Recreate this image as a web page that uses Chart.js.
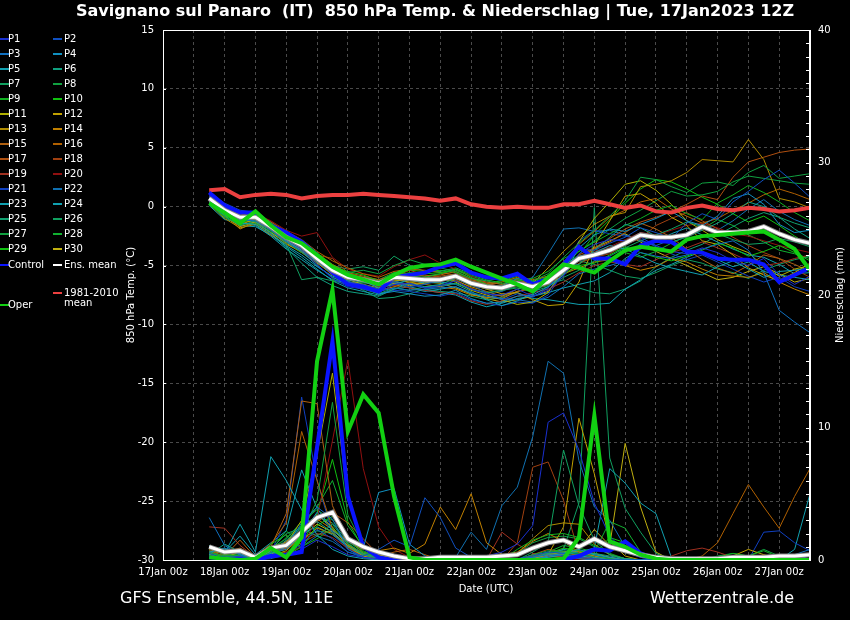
<!DOCTYPE html>
<html>
<head>
<meta charset="utf-8">
<script src="https://cdn.jsdelivr.net/npm/chart.js@4.4.1/dist/chart.umd.min.js"></script>
<style>
html, body { margin: 0; padding: 0; background: #000; }
#wrap { width: 850px; height: 620px; }
</style>
</head>
<body>
<div id="wrap"><canvas id="chart" width="850" height="620"></canvas></div>
<script>
// lead times (hours after 17Jan 00z), 6-hourly
const leadHours = [18,24,30,36,42,48,54,60,66,72,78,84,90,96,102,108,114,120,126,132,
                   138,144,150,156,162,168,174,180,186,192,198,204,210,216,222,228,234,240,246,252];
const dayLabels = ['17Jan 00z','18Jan 00z','19Jan 00z','20Jan 00z','21Jan 00z','22Jan 00z',
                   '23Jan 00z','24Jan 00z','25Jan 00z','26Jan 00z','27Jan 00z'];

// 850 hPa temperature (°C)
const operTemp = [0.3,-0.5,-1.4,-0.4,-1.6,-2.6,-3.1,-4.1,-5.1,-5.8,-6.2,-6.6,-5.8,-5.2,-5.0,-4.9,-4.5,-5.1,-5.6,-6.1,
                  -6.6,-7.2,-6.0,-4.9,-5.2,-5.6,-4.6,-3.7,-3.4,-3.6,-3.8,-2.8,-2.5,-2.4,-2.3,-2.2,-2.1,-2.8,-3.6,-5.4];
const controlTemp = [1.2,0.1,-0.5,-0.5,-1.6,-2.2,-3.0,-4.1,-5.6,-6.6,-6.8,-7.2,-6.0,-5.8,-5.6,-5.1,-4.8,-5.6,-6.0,-6.1,
                     -5.7,-6.6,-6.1,-4.9,-3.4,-4.4,-4.4,-4.9,-3.3,-2.9,-3.0,-3.8,-3.9,-4.4,-4.5,-4.5,-4.9,-6.4,-5.8,-5.2];
const meanTemp = [0.7,-0.3,-0.9,-0.9,-1.7,-2.6,-3.3,-4.4,-5.4,-6.0,-6.2,-6.5,-6.0,-6.1,-6.2,-6.2,-5.9,-6.5,-6.8,-6.9,
                  -6.5,-6.8,-6.4,-5.4,-4.4,-4.1,-3.7,-3.1,-2.4,-2.6,-2.6,-2.4,-1.7,-2.2,-2.2,-2.1,-1.7,-2.3,-2.8,-3.1];
const climTemp = [1.4,1.5,0.8,1.0,1.1,1.0,0.7,0.9,1.0,1.0,1.1,1.0,0.9,0.8,0.7,0.5,0.7,0.2,0.0,-0.1,
                  0.0,-0.1,-0.1,0.2,0.2,0.5,0.2,-0.1,0.1,-0.4,-0.5,-0.1,0.1,-0.2,-0.3,-0.1,-0.2,-0.4,-0.3,-0.1];

// precipitation (mm / 6h)
const operPrecip = [0.2,0.1,0.0,0.1,0.9,0.2,1.7,15.0,20.4,9.7,12.5,11.1,4.8,0.2,0,0,0,0,0,0,
                    0,0,0,0.1,1.7,10.9,1.4,1.0,0.4,0.1,0,0,0,0,0,0,0,0,0,0];
const controlPrecip = [0.2,0.1,0.1,0.0,0.3,0.4,0.6,8.5,16.5,4.8,1.0,0.2,0,0,0,0,0,0,0,0,
                       0,0,0,0,0.3,0.8,0.7,1.4,0.5,0.1,0,0,0,0,0,0.1,0.1,0,0,0];
const meanPrecip = [1.0,0.6,0.7,0.2,0.9,1.1,2.1,3.2,3.6,1.6,1.0,0.6,0.3,0.1,0.1,0.2,0.2,0.2,0.2,0.3,
                    0.4,0.9,1.3,1.5,1.0,1.6,1.0,0.7,0.4,0.2,0.1,0.1,0.1,0.1,0.2,0.2,0.2,0.3,0.3,0.4];

// ensemble members P1..P30
const memberNames = ['P1','P2','P3','P4','P5','P6','P7','P8','P9','P10','P11','P12','P13','P14','P15',
                     'P16','P17','P18','P19','P20','P21','P22','P23','P24','P25','P26','P27','P28','P29','P30'];
const memberColors = ['#1a30d0','#1050c0','#1070c0','#1090c0','#10a0b0','#10a080','#10a060','#10a040','#10b020','#10c010',
                      '#b0b000','#c0a000','#b08c00','#c08000','#b06010','#b06000','#b05010','#a04010','#a03020','#901010',
                      '#1040c0','#1070b0','#10a0b0','#10a0b0','#10a070','#10a060','#10a040','#10b030','#10c010','#c0b010'];
const memberTemp = [
  [0.9,-0.1,-0.7,-1.0,-1.9,-2.8,-3.6,-4.9,-6.1,-6.8,-7.0,-7.3,-6.6,-6.5,-6.9,-6.7,-6.3,-7.0,-7.4,-7.5,-7.0,-7.6,-7.1,-5.9,-4.0,-3.2,-2.8,-2.9,-2.6,-3.3,-3.8,-4.0,-3.5,-3.9,-4.6,-5.0,-4.4,-5.8,-6.6,-5.9],
  [1.0,0.1,-0.5,-0.8,-1.6,-2.5,-3.2,-4.4,-5.6,-6.4,-6.6,-7.0,-6.4,-6.8,-6.6,-6.2,-5.8,-6.6,-7.3,-7.9,-7.4,-7.7,-6.9,-5.2,-3.6,-3.7,-3.1,-2.6,-1.8,-2.2,-2.7,-1.4,-0.6,-1.1,0.4,1.3,2.3,3.1,2.0,0.8],
  [0.8,-0.4,-1.1,-1.2,-2.0,-3.0,-3.8,-5.0,-6.0,-6.5,-6.8,-7.2,-6.9,-7.1,-7.0,-6.9,-6.8,-7.3,-7.6,-7.8,-7.9,-8.1,-7.7,-6.8,-5.7,-5.3,-5.0,-4.6,-3.9,-4.2,-4.4,-4.1,-3.6,-3.2,-2.9,-3.7,-5.6,-8.8,-9.8,-10.7],
  [0.5,-0.6,-1.2,-1.0,-1.8,-2.9,-3.7,-4.7,-5.7,-6.4,-6.9,-7.4,-7.2,-7.4,-7.6,-7.5,-7.1,-7.8,-8.2,-8.1,-7.6,-7.5,-6.8,-5.8,-3.5,-2.4,-1.9,-2.1,-1.5,-1.0,-0.4,-1.2,-1.6,-0.8,0.7,1.1,0.2,-1.5,-2.2,-2.0],
  [0.4,-0.7,-1.4,-1.5,-2.3,-3.3,-4.1,-5.1,-5.9,-6.3,-6.3,-6.9,-6.6,-6.2,-6.5,-6.4,-6.6,-7.2,-7.9,-8.4,-8.0,-7.4,-6.3,-5.0,-4.2,-3.9,-3.3,-3.6,-4.2,-4.8,-5.2,-5.5,-5.8,-5.1,-4.6,-5.3,-6.0,-5.5,-5.4,-5.2],
  [0.6,-0.3,-1.0,-1.3,-2.2,-3.5,-4.8,-6.0,-6.7,-7.2,-7.4,-7.6,-7.0,-6.5,-6.8,-6.6,-6.1,-6.7,-6.9,-6.7,-6.1,-6.4,-6.2,-5.1,-4.9,-3.7,-2.6,-1.5,-1.8,-2.5,-3.0,-2.6,-2.0,-1.4,-0.6,0.4,0.0,-0.9,-1.9,-2.7],
  [0.3,-0.8,-1.6,-1.2,-2.0,-3.2,-6.2,-6.0,-6.3,-6.6,-7.0,-7.4,-6.9,-7.1,-6.8,-6.7,-6.5,-7.0,-7.3,-7.1,-6.9,-7.2,-6.8,-6.0,-5.4,-4.6,-4.2,-3.5,-2.9,-2.4,-1.9,-1.3,-1.7,-2.3,-2.8,-3.2,-3.1,-2.7,-3.0,-3.4],
  [0.7,-0.2,-0.8,-0.7,-1.4,-2.3,-3.0,-4.3,-5.3,-5.6,-5.4,-5.7,-5.0,-4.5,-4.9,-5.2,-5.5,-6.1,-6.3,-6.0,-5.8,-6.3,-5.7,-4.3,-3.1,-2.0,-0.8,0.5,2.5,2.3,1.7,1.2,2.0,2.1,1.8,2.9,3.5,2.4,2.6,2.8],
  [0.2,-0.9,-1.5,-1.4,-2.1,-3.0,-3.9,-4.6,-5.5,-6.1,-6.5,-6.4,-5.6,-5.9,-6.0,-5.7,-5.3,-5.8,-6.2,-6.5,-6.3,-6.1,-5.5,-4.4,-3.8,-3.0,-2.3,-1.6,-1.0,-0.3,0.1,-0.6,-1.1,0.3,1.0,1.8,1.2,0.4,-0.5,-1.2],
  [0.5,-0.5,-1.2,-0.9,-1.8,-2.7,-3.4,-4.2,-5.1,-5.5,-5.8,-6.3,-5.9,-5.6,-5.7,-5.6,-5.3,-6.0,-6.6,-6.9,-6.5,-6.9,-6.4,-5.7,-5.0,-4.8,-4.1,-3.4,-3.9,-4.3,-4.6,-4.2,-3.7,-3.1,-3.5,-4.2,-3.8,-3.3,-3.9,-4.6],
  [0.6,-0.6,-1.5,-1.1,-1.9,-2.8,-3.5,-4.5,-5.3,-5.9,-6.2,-6.6,-6.2,-6.4,-6.3,-6.1,-6.4,-7.1,-7.5,-7.9,-8.3,-8.1,-7.3,-5.2,-3.0,-1.0,0.4,1.9,2.2,1.4,0.2,-1.2,-2.0,-2.8,-3.4,-3.9,-5.1,-5.9,-5.3,-5.0],
  [0.4,-0.8,-1.7,-1.3,-2.2,-3.1,-3.9,-4.8,-5.7,-6.2,-6.6,-6.9,-6.5,-6.7,-6.5,-6.3,-6.0,-6.6,-7.0,-7.4,-7.3,-7.9,-8.4,-8.3,-6.4,-3.3,-1.2,0.9,1.1,0.3,-0.9,-1.6,-2.9,-3.2,-4.1,-5.2,-5.8,-6.3,-5.6,-4.8],
  [0.2,-1.0,-1.8,-1.5,-2.4,-3.2,-3.8,-4.6,-5.4,-5.8,-6.1,-6.5,-6.3,-6.2,-6.0,-6.1,-6.3,-6.8,-7.2,-7.6,-7.0,-6.5,-5.2,-3.8,-2.6,-1.5,-0.8,-0.5,1.7,1.9,2.2,2.9,4.0,3.9,3.8,5.7,4.0,0.7,0.4,-0.1],
  [0.5,-0.7,-1.9,-1.3,-2.0,-2.9,-3.7,-4.7,-5.8,-6.4,-6.6,-7.1,-6.8,-6.4,-6.6,-6.8,-7.0,-7.5,-7.7,-7.8,-7.2,-6.8,-6.3,-5.7,-5.2,-4.7,-4.5,-5.0,-5.4,-5.1,-4.4,-4.7,-5.3,-5.8,-5.9,-6.0,-5.6,-6.4,-7.0,-7.5],
  [0.8,-0.2,-0.6,-0.8,-1.5,-2.4,-3.1,-4.0,-4.9,-5.6,-5.9,-6.2,-5.8,-5.7,-5.9,-5.8,-5.5,-6.1,-6.4,-6.6,-6.2,-6.6,-6.0,-5.1,-4.5,-3.6,-3.0,-2.2,-1.4,-1.9,-2.6,-3.6,-4.5,-5.2,-5.7,-5.0,-4.1,-4.4,-4.9,-5.5],
  [1.1,0.2,-0.5,-0.6,-1.3,-2.1,-2.8,-3.8,-4.6,-5.2,-5.7,-6.0,-5.5,-5.3,-5.4,-5.6,-5.8,-6.3,-6.6,-6.4,-6.0,-6.2,-5.9,-4.7,-3.2,-2.1,-0.9,-0.3,0.4,0.7,-0.2,-0.8,-1.4,-1.0,-0.3,0.3,1.0,1.5,1.1,0.6],
  [0.9,0.0,-0.6,-1.0,-1.7,-2.6,-3.4,-4.3,-5.2,-5.8,-6.0,-6.3,-6.1,-6.0,-6.1,-5.9,-5.7,-6.2,-6.5,-6.8,-6.4,-6.5,-6.1,-5.5,-4.1,-3.5,-2.7,-1.9,-1.3,-0.9,-0.4,0.2,0.9,0.6,2.5,3.8,4.2,4.6,4.8,4.9],
  [0.7,-0.4,-0.9,-0.8,-1.6,-2.5,-3.2,-4.1,-4.4,-5.6,-6.1,-6.4,-6.0,-5.4,-5.8,-6.0,-6.2,-6.9,-7.4,-7.6,-7.2,-7.0,-6.6,-5.8,-4.8,-4.3,-4.0,-3.2,-2.7,-1.6,-1.0,-0.5,-1.2,-1.9,-2.6,-3.3,-3.9,-4.4,-5.3,-6.0],
  [0.6,-0.5,-1.1,-1.1,-1.9,-2.7,-3.3,-4.0,-5.0,-5.7,-6.3,-6.8,-6.7,-6.9,-7.1,-7.3,-7.4,-8.0,-8.3,-8.0,-7.6,-7.3,-7.0,-6.4,-5.6,-5.0,-4.7,-4.9,-5.1,-4.5,-3.9,-3.5,-3.0,-3.5,-4.0,-4.6,-5.0,-4.8,-4.4,-4.1],
  [1.0,0.1,-0.4,-0.6,-1.2,-2.0,-2.5,-2.2,-4.3,-5.3,-5.7,-5.9,-5.1,-4.5,-4.1,-4.8,-5.3,-5.9,-6.5,-6.9,-6.7,-7.0,-6.5,-5.6,-4.2,-3.8,-3.4,-2.8,-2.2,-2.4,-2.0,-1.6,-1.4,-1.8,-2.3,-2.5,-2.9,-3.3,-3.6,-3.9],
  [1.2,0.3,-0.3,-0.5,-1.3,-2.3,-3.1,-4.2,-5.5,-6.3,-6.9,-7.4,-7.1,-7.2,-7.4,-7.6,-7.3,-7.9,-8.2,-8.4,-8.1,-8.2,-7.5,-5.6,-2.9,-2.0,-2.3,-2.5,-2.8,-3.4,-4.0,-4.5,-4.1,-4.7,-5.3,-5.9,-6.4,-6.0,-6.8,-7.2],
  [0.9,-0.2,-0.8,-0.9,-1.6,-2.4,-3.0,-4.1,-5.2,-5.9,-6.4,-6.8,-6.3,-6.6,-6.9,-6.8,-6.5,-7.0,-7.3,-7.2,-6.6,-6.0,-4.0,-1.9,-1.8,-2.1,-2.0,-2.4,-2.9,-3.3,-2.8,-2.2,-1.6,-2.0,-1.2,-0.2,0.6,-0.4,-1.1,-1.6],
  [0.3,-0.9,-1.6,-1.7,-2.4,-3.4,-4.3,-5.3,-6.3,-6.9,-7.2,-7.5,-7.0,-6.8,-7.1,-7.3,-7.5,-8.1,-8.5,-8.2,-7.8,-7.6,-7.3,-6.9,-6.6,-6.3,-5.6,-4.4,-3.6,-3.0,-2.3,-1.8,-2.4,-3.0,-3.6,-4.1,-4.3,-4.9,-5.7,-5.6],
  [0.1,-1.1,-1.3,-1.6,-2.5,-3.6,-4.5,-5.4,-6.2,-6.5,-6.4,-6.7,-6.5,-6.9,-7.2,-7.0,-6.8,-7.4,-7.7,-7.5,-7.3,-7.8,-7.9,-8.1,-8.3,-8.3,-8.2,-7.0,-6.2,-5.4,-4.9,-4.3,-3.8,-4.5,-5.1,-4.7,-5.5,-5.8,-6.0,-6.2],
  [0.5,-0.4,-1.0,-1.1,-1.9,-2.9,-3.5,-4.4,-5.6,-6.5,-7.1,-7.8,-7.7,-7.4,-7.0,-7.2,-7.3,-7.6,-7.9,-7.7,-7.2,-6.9,-6.6,-6.2,-6.9,-7.3,-7.4,-7.0,-6.3,-5.1,-4.3,-3.7,-3.2,-2.4,-1.7,-1.0,-0.5,-0.9,-1.4,-1.8],
  [0.4,-0.6,-1.3,-1.0,-1.7,-2.6,-3.3,-4.1,-5.0,-5.3,-5.1,-5.4,-4.2,-5.0,-5.5,-5.5,-5.2,-5.7,-6.0,-6.3,-6.1,-6.4,-6.0,-5.3,-4.6,-4.9,-5.4,-5.9,-6.1,-5.6,-5.0,-4.5,-4.8,-5.3,-5.6,-6.1,-5.4,-4.9,-4.5,-4.2],
  [0.6,-0.3,-0.9,-0.6,-1.5,-2.4,-3.2,-4.0,-5.2,-5.7,-6.0,-6.2,-5.6,-5.8,-5.9,-5.7,-5.4,-5.9,-6.3,-6.6,-6.2,-6.6,-6.1,-5.0,-3.8,-2.9,-1.9,-1.0,-0.3,0.5,1.3,0.9,1.0,1.3,2.1,2.6,2.4,2.2,2.0,1.9],
  [0.3,-0.7,-1.2,-1.2,-2.0,-3.0,-3.8,-5.0,-6.0,-6.6,-6.8,-7.0,-6.4,-6.0,-6.2,-6.3,-6.1,-6.6,-7.0,-7.1,-6.8,-7.0,-6.7,-5.8,-4.9,-4.0,-3.5,-3.9,-4.3,-3.8,-3.1,-2.5,-1.9,-1.1,-1.6,-2.4,-3.0,-3.7,-4.0,-4.4],
  [0.7,-0.4,-1.0,-0.8,-1.5,-2.3,-3.1,-4.3,-5.5,-5.9,-6.1,-6.4,-5.8,-5.4,-5.5,-5.4,-5.6,-6.2,-6.5,-6.3,-5.9,-6.3,-5.9,-5.0,-4.1,-2.4,-1.1,0.3,1.5,2.3,2.1,1.5,0.8,0.2,-0.6,-1.3,-0.8,-1.6,-2.5,-3.3],
  [0.5,-0.5,-1.1,-1.4,-2.2,-3.0,-3.6,-4.5,-5.4,-6.0,-6.3,-6.7,-6.4,-6.6,-6.4,-6.5,-6.9,-7.4,-7.8,-8.1,-7.9,-7.6,-7.2,-5.6,-4.4,-3.5,-2.9,-2.3,-3.0,-3.8,-4.4,-5.0,-5.6,-6.2,-6.0,-5.5,-5.1,-5.7,-6.4,-6.1]
];
const memberPrecip = [
  [0.3,0.2,0.1,0,0.2,0.3,0.8,1.5,1.0,0.4,0.2,0.1,0,0,0,0,0,0.1,0.3,0.6,1.2,2.6,10.4,11.1,8.3,4.3,1.8,0.6,0.2,0,0,0,0,0,0,0.1,0.2,0.1,0,0.3],
  [0.5,0.1,0.3,0,0.1,0.4,1.2,2.3,1.6,0.6,0.3,0.8,1.5,1.0,4.7,3.2,0.9,0.2,0,0,0.1,0.3,0.6,0.5,0.2,0.1,0,0,0,0,0,0,0,0,0,0,0.1,0,0,0],
  [3.2,1.1,0.4,0,0.3,1.0,2.8,4.0,3.1,0.8,0.2,0,0,0,0,0,0,0,0,0,0,0.2,0.4,0.3,0.1,0,0,0,0,0,0,0,0,0,0,0,0,0,0.4,0.8],
  [0.6,0.9,0.4,0,0.5,0.8,1.9,3.6,2.2,1.4,0.9,5.1,5.4,1.2,0.3,0,0,0,0,0,0,0,0.3,0.5,0.8,0.4,0.2,0,0,0,0,0,0,0,0,0,0,0,0,0],
  [1.1,0.5,2.7,0.6,7.8,6.0,3.8,1.9,0.8,0.3,0.1,0,0,0,0,0,0,0,0,0,0,0.1,0.2,0.4,0.3,0.2,0,0,0,0,0,0,0,0,0,0,0,0,0,0],
  [0.4,1.2,0.6,0.2,0.6,1.5,2.4,2.9,2.1,1.0,0.4,0.1,0,0,0,0,0,0,0,0,0,0.2,0.5,0.6,0.4,0.5,0.3,0.1,0,0,0,0,0,0,0,0,0,0,0,0],
  [0.2,0.3,0.2,0,0.8,2.0,2.4,1.8,2.7,1.2,0.5,0.2,0,0,0,0,0,0,0,0,0,0.6,1.3,8.3,4.1,1.5,0.4,0.1,0,0,0,0,0,0,0,0,0,0,0,0],
  [0.6,0.3,0.4,0.1,0.5,1.1,2.0,4.5,11.9,3.4,1.1,0.3,0,0,0,0,0,0,0,0,0,0.4,0.7,0.6,0.5,0.2,0.1,0,0,0,0,0,0,0,0,0,0,0,0,0],
  [0.9,0.4,0.3,0.1,0.6,0.3,1.0,1.6,2.4,1.3,0.4,0.1,0,0,0,0,0,0,0,0,0.8,1.5,1.9,2.0,1.7,1.1,0.5,0.1,0,0,0,0,0,0.2,0.5,0.3,0.7,0.2,0,0],
  [0.5,0.2,0.1,0,1.2,1.9,0.9,2.6,3.3,1.5,0.6,0.2,0,0,0,0,0,0,0,0,0,0.2,0.5,0.9,0.7,0.4,1.7,1.3,0.5,0.1,0,0,0,0,0,0,0,0,0,0],
  [0.4,0.2,0.6,0,0.4,1.2,3.0,8.0,14.1,4.5,1.2,0.4,0.1,0,0,0,0,0,0,0,0,0.1,0.4,0.6,0.7,0.5,0.2,0,0,0,0,0,0,0,0.2,0.1,0,0,0,0],
  [0.3,0.1,0.2,0,0.3,0.7,1.8,3.4,2.5,1.0,0.3,0,0,0,0,0,0,0,0,0,0,0.2,0.4,2.5,10.7,6.5,1.4,0.3,0,0,0,0,0,0,0.3,0.8,0.4,0.1,0,0],
  [0.8,0.4,0.6,0.2,1.0,1.3,1.5,2.4,2.0,1.1,0.5,0.2,0,0,0,0,0,0,0,0,0.5,1.6,2.6,2.8,2.7,1.2,0.4,0.1,0,0,0,0,0,0,0,0,0,0,0,0],
  [0.4,0.2,0.3,0.1,0.6,1.4,2.2,3.1,2.3,1.4,0.8,0.7,0.9,0.5,1.2,4.0,2.3,5.0,1.3,0.4,0.6,1.4,2.0,1.4,0.6,0.3,0,0,0,0,0,0,0,0,0,0,0,0,0,0],
  [0.7,0.3,1.5,0.2,1.0,3.5,12.0,11.8,4.1,1.6,0.5,0.2,0.6,0.8,0.4,0,0,0,0,0,0,0.1,0.3,0.2,0.1,0,0,0,0,0,0,0,0,0,0,0,0,0,0,0],
  [0.5,0.6,0.9,0.3,1.2,2.8,9.7,6.0,2.4,1.2,0.4,0.1,0,0,0,0,0,0,0,0,0,0.3,0.5,0.4,0.2,0.1,0,0,0,0,0,0,0.3,1.3,3.5,5.7,4.0,2.4,4.8,6.9],
  [1.0,0.5,0.8,0.2,0.4,0.9,2.1,2.9,3.6,2.8,1.6,0.4,0.1,0,0,0,0,0,0,0,0,0.4,0.8,0.6,0.3,0.1,0,0,0,0,0,0,0,0,0,0,0,0,0,0],
  [0.6,0.3,0.2,0.1,0.3,0.6,1.3,1.9,2.2,1.5,0.6,0.2,0,0,0,0,0,0,0,0,1.3,7.0,7.4,4.5,0.5,0.2,0,0,0,0,0,0,0,0,0,0,0,0,0,0],
  [2.5,2.4,1.1,0.2,0.7,0.8,1.6,2.0,1.7,0.9,0.3,0.1,0,0,0,0,0,0,0,2.1,1.2,0.5,0.3,0.2,0.1,0,0,0,0,0,0.3,0.7,0.9,0.6,0.2,0,0,0,0,0],
  [0.3,0.2,0.1,0,0.2,0.5,1.0,3.1,9.0,15.1,6.9,2.5,0.8,0.2,0,0,0,0,0,0,0,0.1,0.3,0.2,0,0,0,0,0,0,0,0,0,0,0,0,0,0,0,0],
  [0.3,0.1,0.2,0,0.6,3.0,12.3,6.0,2.0,0.8,0.3,0.1,0,0,0,0,0,0,0,0,0,0.1,0.2,0.3,0.2,0.1,0,0,0,0,0,0,0,0,0,0,2.1,2.2,1.3,0.7],
  [0.4,0.2,0.1,0,0.3,0.5,1.0,1.8,1.4,0.6,0.2,0,0,0,0,0,0.2,2.1,0.8,4.1,5.5,9.3,15.0,14.1,7.5,4.0,3.0,1.0,0.2,0,0,0,0,0,0,0,0,0,0,0],
  [0.9,0.6,1.8,0.4,1.3,2.2,6.8,3.9,2.3,1.2,0.5,0.2,0,0,0,0,0,0,0,0,0,0.2,0.3,0.5,0.6,0.4,0.2,0,0,0,0,0,0,0,0,0,0,0,0.8,5.0],
  [0.2,0.8,0.5,0,0.4,1.0,2.0,2.5,1.9,1.0,0.4,0.2,0,0,0,0,0,0,0,0,0,0.4,0.5,0.8,0.6,0.9,6.9,5.8,4.3,3.5,0.2,0,0,0,0,0,0,0,0,0],
  [0.5,0.3,0.2,0,0.5,1.4,2.6,3.3,2.8,1.4,0.6,0.3,0.1,0,0,0,0,0,0,0,0,0.3,0.6,0.7,0.5,0.3,0.1,0,0,0,0,0,0,0,0,0,0,0,0,0],
  [0.3,0.4,0.2,0,0.4,0.9,1.7,2.2,2.0,1.0,0.3,0.1,0,0,0,0,0,0,0,0,0,0.2,0.4,0.8,4.3,26.6,7.7,3.9,2.1,0.5,0,0,0,0,0,0,0,0,0,0],
  [0.7,0.5,0.3,0.1,0.9,1.6,2.9,3.8,3.0,1.6,0.7,0.2,0,0,0,0,0,0,0,0,0.5,1.3,1.7,1.8,1.6,1.0,0.4,0.1,0,0,0,0,0,0.3,0.5,0.3,0.8,0.3,0.1,0],
  [0.4,0.3,0.5,0.1,0.6,1.7,2.5,4.0,6.0,2.6,1.0,0.3,0,0,0,0,0,0,0,0,0,0.3,0.6,1.1,0.9,0.6,2.9,2.4,0.6,0.1,0,0,0,0,0,0,0,0,0,0],
  [0.6,0.2,0.4,0,0.7,2.2,1.1,3.5,7.6,2.9,0.9,0.3,0.1,0,0,0,0,0,0,0,0,0.2,0.3,0.5,0.4,0.3,0.1,0,0,0,0,0,0,0,0,0,0,0,0,0],
  [0.5,0.2,0.3,0,0.5,1.0,1.8,2.7,2.1,1.1,0.4,0.1,0,0,0,0,0,0,0,0,0,0.2,0.4,0.6,0.8,2.3,1.1,8.8,4.0,0.6,0,0,0,0,0,0,0,0,0,0]
];

const operColor = '#12d012';
const controlColor = '#0a14ff';
const meanColor = '#ffffff';
const climColor = '#ec4040';

const toXY = arr => arr.map((v, i) => ({ x: leadHours[i], y: v }));

const line = (data, color, width, axis, order) => ({
    data: toXY(data),
    borderColor: color,
    borderWidth: width,
    yAxisID: axis,
    order: order,
    pointRadius: 0,
    tension: 0,
    fill: false,
});

const datasets = [];
memberTemp.forEach((t, i) => datasets.push(line(t, memberColors[i], 1, 'y', 10)));
memberPrecip.forEach((p, i) => datasets.push(line(p, memberColors[i], 1, 'y2', 10)));
datasets.push(line(climTemp, climColor, 4, 'y', 5));
datasets.push(line(controlTemp, controlColor, 4, 'y', 4));
datasets.push(line(controlPrecip, controlColor, 4, 'y2', 4));
// ens. mean: white with a grey edge
datasets.push(line(meanTemp, '#8a8a8a', 5, 'y', 3));
datasets.push(line(meanPrecip, '#8a8a8a', 5, 'y2', 3));
datasets.push(line(meanTemp, meanColor, 3, 'y', 2));
datasets.push(line(meanPrecip, meanColor, 3, 'y2', 2));
datasets.push(line(operTemp, operColor, 4, 'y', 1));
datasets.push(line(operPrecip, operColor, 4, 'y2', 1));

const FONT = '"DejaVu Sans", Verdana, sans-serif';

// title, frame, axis titles, footer and legend
const decorations = {
    id: 'decorations',
    beforeDraw(chart) {
        const ctx = chart.ctx;
        ctx.save();
        ctx.fillStyle = '#000';
        ctx.fillRect(0, 0, chart.width, chart.height);
        ctx.restore();
    },
    afterDraw(chart) {
        const ctx = chart.ctx;
        const a = chart.chartArea;
        const y2 = chart.scales.y2;
        const y = chart.scales.y;
        ctx.save();

        // frame
        ctx.strokeStyle = '#fff';
        ctx.lineWidth = 1;
        ctx.strokeRect(a.left + 0.5, a.top + 0.5, a.right - a.left - 1, a.bottom - a.top);

        // inward minor ticks
        ctx.beginPath();
        for (let v = 0; v <= 40; v++) {
            const py = Math.round(y2.getPixelForValue(v)) + 0.5;
            ctx.moveTo(a.right - 4, py);
            ctx.lineTo(a.right, py);
        }
        for (let v = -30; v <= 15; v += 5) {
            const py = Math.round(y.getPixelForValue(v)) + 0.5;
            ctx.moveTo(a.left, py);
            ctx.lineTo(a.left + 3, py);
        }
        ctx.stroke();

        // title
        ctx.fillStyle = '#fff';
        ctx.textAlign = 'center';
        ctx.textBaseline = 'middle';
        ctx.font = 'bold 16px ' + FONT;
        ctx.fillText('Savignano sul Panaro  (IT)  850 hPa Temp. & Niederschlag | Tue, 17Jan2023 12Z', 435, 12);

        // axis titles
        ctx.font = '10px ' + FONT;
        ctx.fillText('Date (UTC)', 486, 589);
        ctx.save();
        ctx.translate(131, 295);
        ctx.rotate(-Math.PI / 2);
        ctx.fillText('850 hPa Temp. (°C)', 0, 0);
        ctx.restore();
        ctx.save();
        ctx.translate(840, 295);
        ctx.rotate(-Math.PI / 2);
        ctx.fillText('Niederschlag (mm)', 0, 0);
        ctx.restore();

        // footer
        ctx.font = '16px ' + FONT;
        ctx.textAlign = 'left';
        ctx.fillText('GFS Ensemble, 44.5N, 11E', 120, 599);
        ctx.textAlign = 'right';
        ctx.fillText('Wetterzentrale.de', 794, 599);

        // legend
        ctx.font = '10px ' + FONT;
        ctx.textAlign = 'left';
        const item = (col, yy, color, text) => {
            const sx = col === 0 ? 0 : 53;
            ctx.strokeStyle = color;
            ctx.lineWidth = 2;
            ctx.beginPath();
            ctx.moveTo(sx, yy);
            ctx.lineTo(sx + 9, yy);
            ctx.stroke();
            ctx.fillStyle = '#fff';
            ctx.fillText(text, col === 0 ? 8 : 64, yy);
        };
        memberNames.forEach((n, i) => item(i % 2, 39 + Math.floor(i / 2) * 15, memberColors[i], n));
        item(0, 265, controlColor, 'Control');
        item(1, 265, meanColor, 'Ens. mean');
        item(1, 293, climColor, '1981-2010');
        ctx.fillText('mean', 64, 303);
        item(0, 305, operColor, 'Oper');

        ctx.restore();
    }
};

new Chart(document.getElementById('chart'), {
    type: 'line',
    data: { datasets: datasets },
    options: {
        responsive: false,
        animation: false,
        devicePixelRatio: 1,
        layout: { padding: { top: 30, left: 0, right: 0, bottom: 0 } },
        plugins: {
            legend: { display: false },
            tooltip: { enabled: false },
        },
        scales: {
            x: {
                type: 'linear',
                min: 0,
                max: 252,
                afterFit: s => { s.height = 60; },
                ticks: {
                    stepSize: 12,
                    autoSkip: false,
                    maxRotation: 0,
                    padding: 6,
                    color: '#fff',
                    font: { family: FONT, size: 10 },
                    callback: v => (v % 24 === 0 ? dayLabels[v / 24] : ''),
                },
                grid: { color: '#4a4a4a', drawTicks: false },
                border: { color: '#fff', dash: [3, 3] },
            },
            y: {
                position: 'left',
                min: -30,
                max: 15,
                afterFit: s => { s.width = 163; },
                ticks: {
                    stepSize: 5,
                    padding: 9,
                    color: '#fff',
                    font: { family: FONT, size: 10 },
                },
                grid: { color: '#4a4a4a', drawTicks: false },
                border: { color: '#fff', dash: [3, 3] },
            },
            y2: {
                position: 'right',
                min: 0,
                max: 40,
                afterFit: s => { s.width = 40; },
                ticks: {
                    stepSize: 10,
                    padding: 8,
                    color: '#fff',
                    font: { family: FONT, size: 10 },
                },
                grid: { drawOnChartArea: false, drawTicks: false },
                border: { color: '#fff' },
            },
        },
    },
    plugins: [decorations],
});
</script>
</body>
</html>
